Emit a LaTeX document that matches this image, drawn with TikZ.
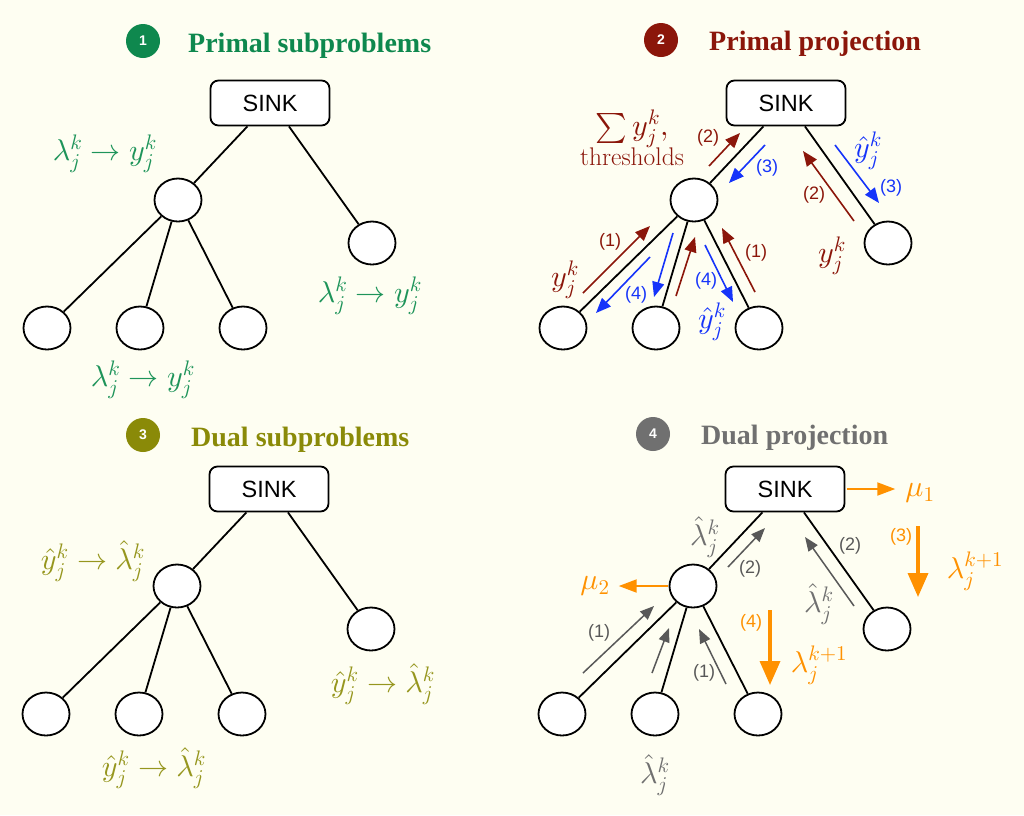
\documentclass[tikz,border=0pt]{standalone}
\usepackage{fontspec}
\DeclareFontShape{OML}{cmm}{m}{it}{<->cmmi10}{}
\DeclareFontShape{OMS}{cmsy}{m}{n}{<->cmsy10}{}
\DeclareFontShape{OMX}{cmex}{m}{n}{<->cmex10}{}
\DeclareFontShape{OT1}{cmr}{m}{n}{<->cmr10}{}
\newfontfamily\titlefont{Liberation Serif}
\newfontfamily\sinkfont{Liberation Sans}
\usetikzlibrary{shapes.geometric,arrows.meta}
\definecolor{bg}{RGB}{254,254,242}
\definecolor{cgreen}{RGB}{14,136,78}
\definecolor{lgreen}{RGB}{30,148,90}
\definecolor{dred}{RGB}{139,22,10}
\definecolor{colive}{RGB}{138,138,8}
\definecolor{lolive}{RGB}{150,150,30}
\definecolor{cgray}{RGB}{112,112,112}
\definecolor{agray}{RGB}{88,88,88}
\definecolor{cblue}{RGB}{22,52,250}
\definecolor{corange}{RGB}{255,145,0}
\tikzset{
  tnode/.style={ellipse,draw=black,fill=white,line width=1.8pt,minimum width=47pt,minimum height=43pt,inner sep=0pt},
  sinkbox/.style={rectangle,rounded corners=8pt,draw=black,fill=white,line width=1.8pt,minimum width=119pt,minimum height=45pt,inner sep=0pt,font=\sinkfont\fontsize{23.5}{24}\selectfont},
  edge/.style={line width=1.8pt,black},
  badge/.style={circle,minimum size=34pt,inner sep=0pt,text=white,font=\sinkfont\bfseries\fontsize{14}{14}\selectfont},
  ttl/.style={anchor=base west,inner sep=0pt,font=\titlefont\bfseries\fontsize{28}{30}\selectfont},
  mlbl/.style={inner sep=0pt,font=\fontsize{30}{34}\selectfont},
  tlbl/.style={inner sep=0pt,font=\fontsize{25.5}{30}\selectfont},
  num/.style={inner sep=0pt,font=\sinkfont\fontsize{18}{20}\selectfont},
  redarr/.style={dred,line width=1.6pt,-{Triangle[length=15pt,width=12pt]}},
  bluearr/.style={cblue,line width=1.6pt,-{Triangle[length=15pt,width=12pt]}},
  grayarr/.style={agray,line width=1.5pt,-{Triangle[length=14pt,width=11pt]}},
  orarr/.style={corange,line width=2pt,-{Triangle[length=18pt,width=13pt]}},
  orthick/.style={corange,line width=3.5pt,-{Triangle[length=24pt,width=20pt]}}
}
\newcommand\drawtree[3]{%
  \begin{scope}[shift={(#2,#3)}]
    \node[sinkbox] (#1s) at (270,103) {SINK};
    \node[tnode] (#1m) at (178,200) {};
    \node[tnode] (#1r) at (372,243) {};
    \node[tnode] (#1a) at (47,328) {};
    \node[tnode] (#1b) at (140,328) {};
    \node[tnode] (#1c) at (243,328) {};
    \draw[edge] (#1s.-134) -- (#1m);
    \draw[edge] (#1s.-51) -- (#1r);
    \draw[edge] (#1m) -- (#1a);
    \draw[edge] (#1m) -- (#1b);
    \draw[edge] (#1m) -- (#1c);
  \end{scope}}
\begin{document}
\begin{tikzpicture}[x=1pt,y=-1pt]
\fill[bg] (0,0) rectangle (1024,815);
\useasboundingbox (0,0) rectangle (1024,815);

% ---------- Panel 1 ----------
\node[badge,fill=cgreen] (b1) at (143,41) {1};
\node[ttl,text=cgreen] (t1) at (188,52) {Primal subproblems};
\drawtree{p}{0}{0}
\node[mlbl,text=lgreen] (l1a) at (105,154) {$\lambda_j^k \to y_j^k$};
\node[mlbl,text=lgreen] (l1b) at (370,296) {$\lambda_j^k \to y_j^k$};
\node[mlbl,text=lgreen] (l1c) at (143,380) {$\lambda_j^k \to y_j^k$};

% ---------- Panel 2 ----------
\node[badge,fill=dred] (b2) at (661,40) {2};
\node[ttl,text=dred] (t2) at (709,50) {Primal projection};
\drawtree{q}{516}{0}
\draw[redarr] (709,166) -- (740,133);
\draw[bluearr] (765,145) -- (729,183);
\draw[redarr] (854,221) -- (803,151);
\draw[bluearr] (835,145) -- (879,203);
\draw[redarr] (583,293) -- (650,226);
\draw[bluearr] (650,257) -- (596,313);
\draw[bluearr] (673,233) -- (654,297);
\draw[redarr] (676,296) -- (695,237);
\draw[bluearr] (705,245) -- (733,302);
\draw[redarr] (755,292) -- (722,228);
\node[num,text=dred] (n2a) at (708,138) {(2)};
\node[num,text=cblue] (n2b) at (767,168) {(3)};
\node[num,text=dred] (n2c) at (814,195) {(2)};
\node[num,text=cblue] (n2d) at (891,188) {(3)};
\node[num,text=dred] (n2e) at (610,242) {(1)};
\node[num,text=cblue] (n2f) at (636,295) {(4)};
\node[num,text=cblue] (n2g) at (706,281) {(4)};
\node[num,text=dred] (n2h) at (756,253) {(1)};
\node[mlbl,text=dred] (l2s) at (632,129) {$\sum y_j^k,$};
\node[tlbl,text=dred] (l2t) at (632,157) {thresholds};
\node[mlbl,text=cblue] (l2a) at (868,151) {$\hat y_j^k$};
\node[mlbl,text=dred] (l2b) at (832,256) {$y_j^k$};
\node[mlbl,text=dred] (l2c) at (565,280) {$y_j^k$};
\node[mlbl,text=cblue] (l2d) at (712,322) {$\hat y_j^k$};

% ---------- Panel 3 ----------
\node[badge,fill=colive] (b3) at (143,435) {3};
\node[ttl,text=colive] (t3) at (191,446) {Dual subproblems};
\drawtree{r}{-1}{386}
\node[mlbl,text=lolive] (l3a) at (93,561) {$\hat y_j^k \to \hat\lambda_j^k$};
\node[mlbl,text=lolive] (l3b) at (383,684) {$\hat y_j^k \to \hat\lambda_j^k$};
\node[mlbl,text=lolive] (l3c) at (154,768) {$\hat y_j^k \to \hat\lambda_j^k$};

% ---------- Panel 4 ----------
\node[badge,fill=cgray] (b4) at (653,434) {4};
\node[ttl,text=cgray] (t4) at (701,444) {Dual projection};
\drawtree{s}{515}{386}
\draw[grayarr] (728,567) -- (765,528);
\draw[grayarr] (854,606) -- (805,537);
\draw[grayarr] (583,673) -- (654,606);
\draw[grayarr] (652,673) -- (669,628);
\draw[grayarr] (726,684) -- (699,629);
\node[num,text=agray] (n4a) at (750,569) {(2)};
\node[num,text=agray] (n4b) at (850,546) {(2)};
\node[num,text=agray] (n4c) at (599,633) {(1)};
\node[num,text=agray] (n4d) at (704,673) {(1)};
\node[mlbl,text=cgray] (l4a) at (705,537) {$\hat\lambda_j^k$};
\node[mlbl,text=cgray] (l4b) at (819,604) {$\hat\lambda_j^k$};
\node[mlbl,text=cgray] (l4c) at (655,775) {$\hat\lambda_j^k$};
\node[mlbl,text=corange] (mu1) at (920,493) {$\mu_1$};
\node[mlbl,text=corange] (mu2) at (595,586) {$\mu_2$};
\draw[orarr,shorten <=2pt,shorten >=10pt] (ss.east) -- (mu1.west |- ss.east);
\draw[orarr,shorten <=1pt,shorten >=9pt] (sm.west) -- (mu2.east |- sm.west);
\draw[orthick] (918,526) -- (918,597);
\draw[orthick] (770,610) -- (770,685);
\node[num,text=corange] (n4e) at (901,537) {(3)};
\node[num,text=corange] (n4f) at (751,623) {(4)};
\node[mlbl,text=corange] (l4d) at (975,571) {$\lambda_j^{k+1}$};
\node[mlbl,text=corange] (l4e) at (819,665) {$\lambda_j^{k+1}$};
\end{tikzpicture}
\end{document}
